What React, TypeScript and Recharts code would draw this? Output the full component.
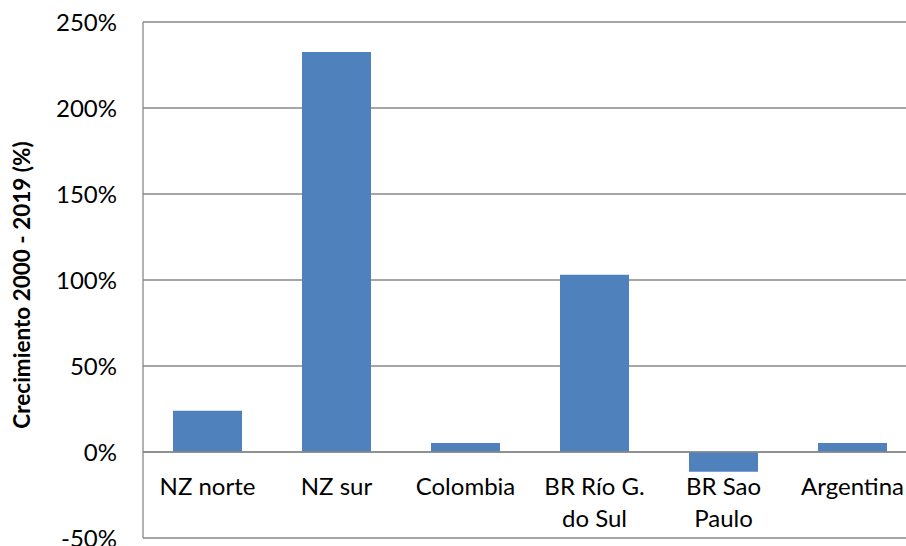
import React from 'react';
import { BarChart, Bar, XAxis, YAxis, CartesianGrid, ReferenceLine } from 'recharts';

const categories: string[][] = [
  ['NZ norte'],
  ['NZ sur'],
  ['Colombia'],
  ['BR Río G.', 'do Sul'],
  ['BR Sao', 'Paulo'],
  ['Argentina'],
];
const growth: number[] = [24, 232.5, 5.2, 103, -11.5, 5.2];
const yTicks: number[] = [-50, 0, 50, 100, 150, 200, 250];
const yTitle = 'Crecimiento 2000 - 2019 (%)';

const data = categories.map((c, i) => ({ name: c.join(' '), lines: c, value: growth[i] }));

const FONT = 'Lato, "Open Sans", sans-serif';
const PLOT_TOP = 22;
const PLOT_BOTTOM = 538;
const Y_MIN = -50;
const Y_MAX = 250;
const zeroY = PLOT_TOP + ((PLOT_BOTTOM - PLOT_TOP) * (Y_MAX - 0)) / (Y_MAX - Y_MIN);

const XTick = (props: any) => {
  const { x, payload } = props;
  const item = data.find((d) => d.name === payload.value);
  const lines = item ? item.lines : [String(payload.value)];
  return (
    <text x={x} y={zeroY + 43} textAnchor="middle" fontFamily={FONT} fontSize={24} fill="#000">
      {lines.map((l, i) => (
        <tspan key={i} x={x} dy={i === 0 ? 0 : 32}>
          {l}
        </tspan>
      ))}
    </text>
  );
};

const YTitle = () => (
  <text
    x={21}
    y={285}
    transform="rotate(-90, 21, 285)"
    textAnchor="middle"
    dominantBaseline="central"
    fontFamily={FONT}
    fontWeight="bold"
    fontSize={22.5}
    fill="#000"
  >
    {yTitle}
  </text>
);

export default function App() {
  return (
    <div style={{ position: 'absolute', left: 0, top: 0, width: 906, height: 546, overflow: 'hidden', background: '#fff' }}>
      <BarChart
        width={920}
        height={546}
        data={data}
        margin={{ top: PLOT_TOP, right: 3, bottom: 0, left: 0 }}
        barSize={69}
      >
        <CartesianGrid vertical={false} stroke="#898989" strokeWidth={1.3} />
        <XAxis
          dataKey="name"
          height={546 - PLOT_BOTTOM}
          axisLine={false}
          tickLine={false}
          tick={<XTick />}
          interval={0}
        />
        <YAxis
          width={143}
          domain={[Y_MIN, Y_MAX]}
          ticks={yTicks}
          interval={0}
          tickFormatter={(v: number) => `${v}%`}
          tick={{ fontFamily: FONT, fontSize: 24, fill: '#000' }}
          tickLine={false}
          tickSize={0}
          tickMargin={26}
          axisLine={{ stroke: '#898989', strokeWidth: 1.3 }}
          label={<YTitle />}
          allowDataOverflow
        />
        <ReferenceLine y={0} stroke="#898989" strokeWidth={1.3} />
        <Bar dataKey="value" fill="#4F81BD" isAnimationActive={false} />
      </BarChart>
    </div>
  );
}
